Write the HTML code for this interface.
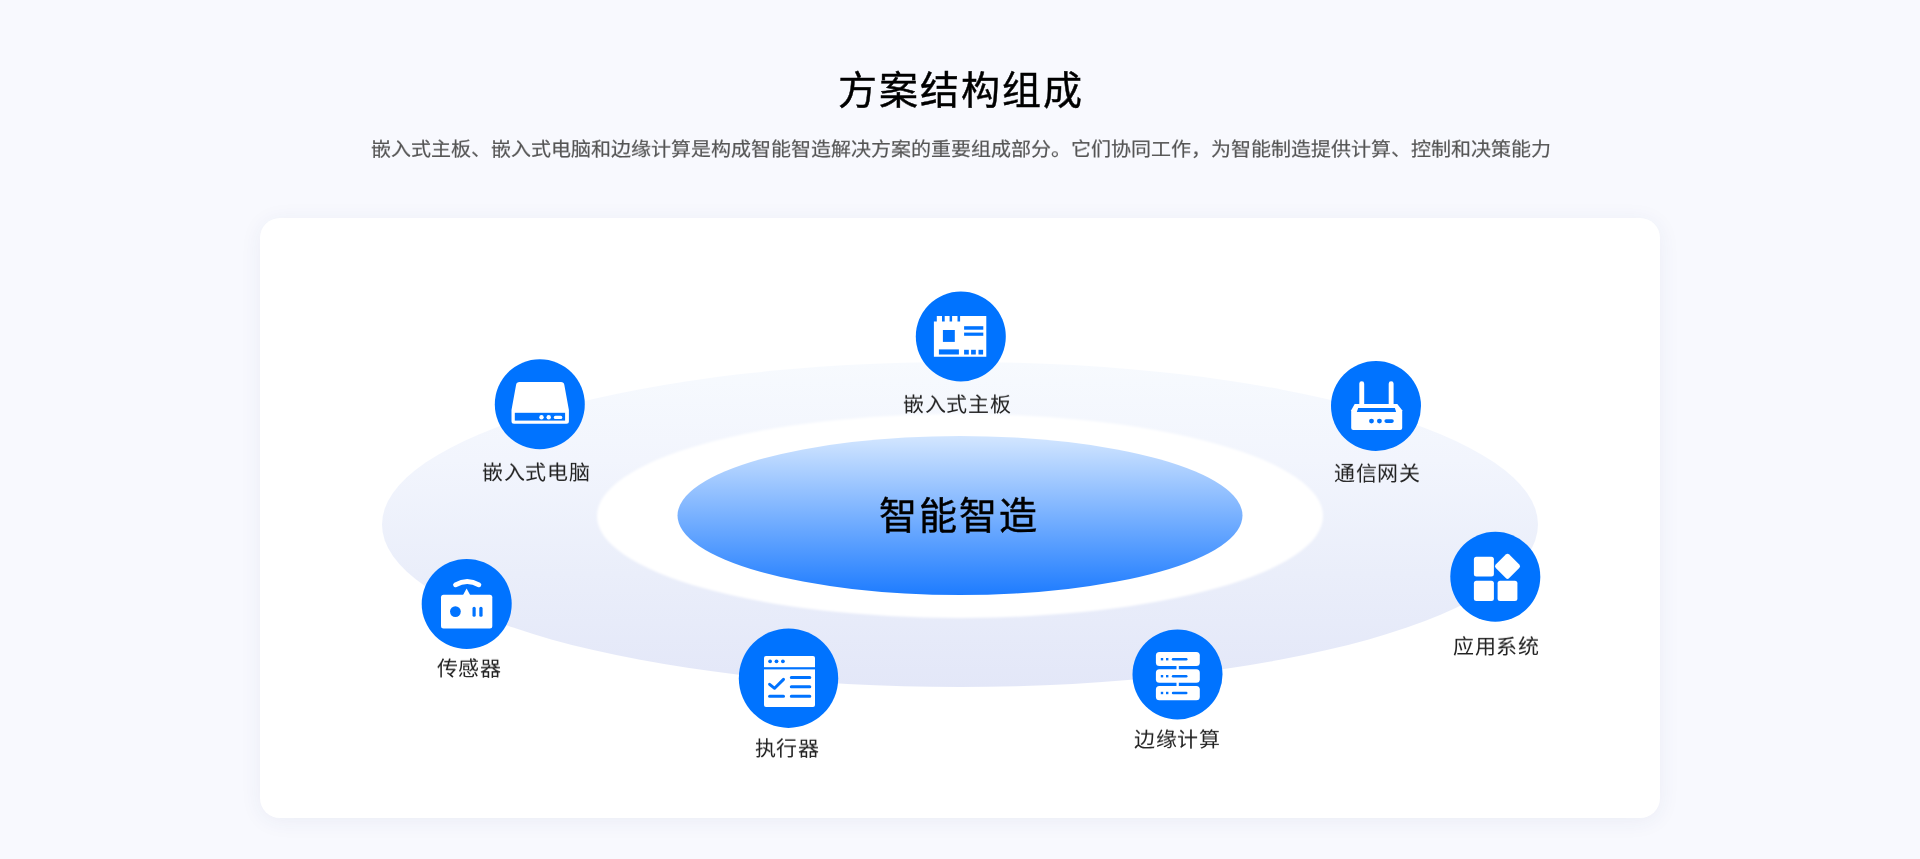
<!DOCTYPE html>
<html lang="zh-CN">
<head>
<meta charset="utf-8">
<style>
html,body{margin:0;padding:0;}
body{width:1920px;height:859px;overflow:hidden;background:#f8f9fe;position:relative;font-family:"Liberation Sans",sans-serif;}
.title{position:absolute;left:0;top:62.5px;width:1920px;text-align:center;font-size:39px;line-height:56px;font-weight:500;-webkit-text-stroke:0.45px #000;color:#000;letter-spacing:2px;text-indent:2px;white-space:nowrap;will-change:transform;}
.sub{position:absolute;left:1px;top:134px;transform:scaleY(0.93);transform-origin:50% 22px;width:1920px;text-align:center;font-size:20px;line-height:30px;color:#555;-webkit-text-stroke:0.2px #555;white-space:nowrap;will-change:transform;}
.card{position:absolute;left:260px;top:218px;width:1400px;height:600px;background:#fff;border-radius:20px;box-shadow:0 3px 22px rgba(40,60,120,0.065);}
svg.art{position:absolute;left:0;top:0;}
.lbl{position:absolute;font-size:21px;line-height:30px;letter-spacing:0.6px;text-indent:0.6px;color:#222;white-space:nowrap;text-align:center;width:200px;will-change:transform;transform:scaleY(0.95);transform-origin:50% 22px;}
.center{position:absolute;left:758px;width:400px;top:488px;text-align:center;font-size:38px;line-height:56px;font-weight:500;-webkit-text-stroke:0.5px #000;letter-spacing:2px;text-indent:2px;color:#000;white-space:nowrap;will-change:transform;}
</style>
</head>
<body>
<div class="title">方案结构组成</div>
<div class="sub">嵌入式主板、嵌入式电脑和边缘计算是构成智能智造解决方案的重要组成部分。它们协同工作，为智能制造提供计算、控制和决策能力</div>
<div class="card"></div>
<svg class="art" width="1920" height="859" viewBox="0 0 1920 859">
  <defs>
    <filter id="soft" x="-5%" y="-10%" width="110%" height="120%"><feGaussianBlur stdDeviation="1"/></filter>
    <linearGradient id="gOuter" x1="0" y1="0" x2="0" y2="1">
      <stop offset="0" stop-color="#f7fafe"/>
      <stop offset="0.3" stop-color="#f2f5fd"/>
      <stop offset="0.65" stop-color="#eaeefa"/>
      <stop offset="1" stop-color="#e3e7f8"/>
    </linearGradient>
    <linearGradient id="gBlue" x1="0" y1="0" x2="0" y2="1">
      <stop offset="0" stop-color="#d3e6ff"/>
      <stop offset="1" stop-color="#1e7cff"/>
    </linearGradient>
  </defs>
  <ellipse cx="960" cy="524.5" rx="578" ry="162.5" fill="url(#gOuter)"/>
  <ellipse cx="960" cy="516" rx="363" ry="102" fill="#fff" filter="url(#soft)"/>
  <ellipse cx="960" cy="515.5" rx="282.5" ry="79.5" fill="url(#gBlue)"/>
  <g fill="#0073ff">
    <circle cx="960.8" cy="336.5" r="45"/>
    <circle cx="539.8" cy="404.2" r="45"/>
    <circle cx="1376" cy="406" r="45"/>
    <circle cx="1495.3" cy="576.8" r="45"/>
    <circle cx="466.7" cy="603.9" r="45"/>
    <circle cx="788.5" cy="678.2" r="49.7"/>
    <circle cx="1177.5" cy="674.5" r="45"/>
  </g>

  <!-- board -->
  <g>
    <path fill="#fff" d="M936.8,316 H986.3 V356.8 H933.9 V321.5 H936.8 Z"/>
    <g fill="#0073ff">
      <rect x="942" y="315" width="2.7" height="6.5"/>
      <rect x="949.6" y="315" width="2.5" height="6.5"/>
      <rect x="957.5" y="315" width="2.6" height="6.5"/>
      <rect x="942.9" y="330" width="11.9" height="11.9"/>
      <rect x="964.1" y="326.2" width="19.2" height="3.5"/>
      <rect x="964.1" y="332.6" width="19.2" height="3.2"/>
      <rect x="938.9" y="349.4" width="20" height="5.1"/>
      <rect x="964.1" y="349.8" width="4.7" height="4.7"/>
      <rect x="971.1" y="349.8" width="4.7" height="4.7"/>
      <rect x="978.5" y="349.8" width="4.6" height="4.7"/>
    </g>
  </g>
  <!-- drive -->
  <g>
    <path fill="#fff" d="M519.5,382 H561 Q563.8,382 564.3,384.8 L568.9,410 V421.3 Q568.9,423.8 566.4,423.8 H514 Q511.5,423.8 511.5,421.3 V410 L516.1,384.8 Q516.6,382 519.5,382 Z"/>
    <rect fill="#0073ff" x="514.8" y="412.8" width="50.3" height="7.8"/>
    <g fill="#fff">
      <circle cx="541.5" cy="417.3" r="2.2"/>
      <circle cx="548.7" cy="417.3" r="2.2"/>
      <rect x="553.8" y="415.8" width="8.5" height="3.3" rx="1.6"/>
    </g>
  </g>
  <!-- router -->
  <g>
    <g fill="#fff">
      <rect x="1359.3" y="381.2" width="4.9" height="25" rx="2.45"/>
      <rect x="1388.7" y="381.2" width="4.9" height="25" rx="2.45"/>
      <path d="M1354.7,403.9 H1397.3 L1402.2,410.2 V428 Q1402.2,430.1 1400.1,430.1 H1353.3 Q1351.2,430.1 1351.2,428 V410.2 Z"/>
    </g>
    <path fill="#0073ff" d="M1358.2,408.1 H1394.9 L1396.1,412 H1356.8 Z"/>
    <g fill="#0073ff">
      <circle cx="1371.5" cy="421.1" r="2.45"/>
      <circle cx="1379.4" cy="421.1" r="2.45"/>
      <rect x="1384.4" y="419.3" width="9.4" height="3.6" rx="1.8"/>
    </g>
  </g>
  <!-- apps -->
  <g fill="#fff">
    <rect x="1473.9" y="556.7" width="20" height="19.8" rx="2.5"/>
    <rect x="1473.9" y="580.8" width="20" height="20.1" rx="2.5"/>
    <rect x="1497.6" y="580.8" width="19.8" height="20.1" rx="2.5"/>
    <rect x="1497.95" y="556.75" width="19.1" height="19.1" rx="2.5" transform="rotate(45 1507.5 566.3)"/>
  </g>
  <!-- sensor -->
  <g>
    <rect fill="#fff" x="441" y="594.7" width="51.3" height="33.8" rx="2.5"/>
    <path fill="#fff" d="M466.6,588.6 L470.4,595.5 H462.8 Z"/>
    <path fill="none" stroke="#fff" stroke-width="4.8" stroke-linecap="round" d="M455.5,584.8 Q467.2,578.2 478.9,584.8"/>
    <circle fill="#0073ff" cx="455.4" cy="611.6" r="5.4"/>
    <rect fill="#0073ff" x="472.5" y="606.8" width="3.2" height="10" rx="1.6"/>
    <rect fill="#0073ff" x="479.3" y="606.8" width="3.3" height="10" rx="1.6"/>
  </g>
  <!-- checklist -->
  <g>
    <rect fill="#fff" x="764" y="656" width="51" height="50.9" rx="2"/>
    <rect fill="#0073ff" x="764" y="667.2" width="51" height="2.2"/>
    <g fill="#0073ff">
      <circle cx="770.1" cy="661.3" r="1.9"/>
      <circle cx="776.5" cy="661.3" r="1.9"/>
      <circle cx="782.9" cy="661.3" r="1.9"/>
    </g>
    <g fill="none" stroke="#0073ff" stroke-width="3" stroke-linecap="round" stroke-linejoin="round">
      <path d="M769.6,684.3 L774.6,688.3 L783.5,679.4"/>
      <path d="M769.6,696.2 H783.5"/>
      <path d="M791.3,677.4 H809.8 M791.3,686.8 H809.8 M791.3,696.2 H809.8"/>
    </g>
  </g>
  <!-- server -->
  <g>
    <g fill="#fff">
      <rect x="1155.9" y="651.9" width="43.9" height="14" rx="3.5"/>
      <rect x="1155.9" y="669.2" width="43.9" height="13.6" rx="3.5"/>
      <rect x="1155.9" y="686" width="43.9" height="14.2" rx="3.5"/>
      <rect x="1176.5" y="665" width="2.3" height="5"/>
      <rect x="1176.5" y="682" width="2.3" height="5"/>
    </g>
    <g fill="#0073ff">
      <rect x="1160.8" y="658" width="2.4" height="2.4"/>
      <rect x="1166" y="658" width="2.4" height="2.4"/>
      <rect x="1171.8" y="658" width="15.7" height="2.4" rx="1.2"/>
      <rect x="1160.8" y="675" width="2.4" height="2.4"/>
      <rect x="1166" y="675" width="2.4" height="2.4"/>
      <rect x="1171.8" y="675" width="15.7" height="2.4" rx="1.2"/>
      <rect x="1160.8" y="691.8" width="2.4" height="2.4"/>
      <rect x="1166" y="691.8" width="2.4" height="2.4"/>
      <rect x="1171.8" y="691.8" width="15.7" height="2.4" rx="1.2"/>
    </g>
  </g>
</svg>
<div class="center">智能智造</div>
<div class="lbl" style="left:857px;top:388.5px">嵌入式主板</div>
<div class="lbl" style="left:436px;top:456.5px">嵌入式电脑</div>
<div class="lbl" style="left:1277px;top:458px">通信网关</div>
<div class="lbl" style="left:1396px;top:630.5px">应用系统</div>
<div class="lbl" style="left:369px;top:653px">传感器</div>
<div class="lbl" style="left:687px;top:733px">执行器</div>
<div class="lbl" style="left:1077px;top:724px">边缘计算</div>
</body>
</html>
